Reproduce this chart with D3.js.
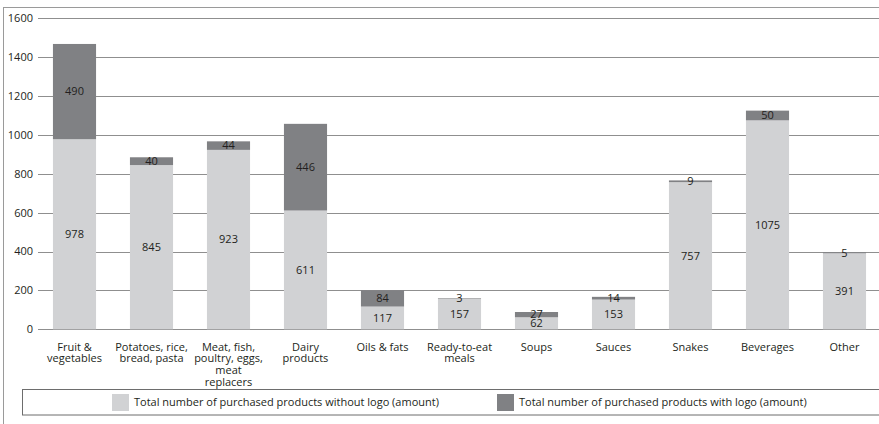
<!DOCTYPE html>
<html>
<head>
<meta charset="utf-8">
<script src="https://cdn.jsdelivr.net/npm/d3@7"></script>
<style>
  body { margin: 0; background: #fff; }
  svg { display: block; font-family: 'Open Sans', 'Noto Sans', sans-serif; }
</style>
</head>
<body>
<div id="chart"></div>
<script>
// Data
const categories = [
  'Fruit &\nvegetables',
  'Potatoes, rice,\nbread, pasta',
  'Meat, fish,\npoultry, eggs,\nmeat\nreplacers',
  'Dairy\nproducts',
  'Oils & fats',
  'Ready-to-eat\nmeals',
  'Soups',
  'Sauces',
  'Snakes',
  'Beverages',
  'Other',
];
const withoutLogo = [978, 845, 923, 611, 117, 157, 62, 153, 757, 1075, 391];
const withLogo = [490, 40, 44, 446, 84, 3, 27, 14, 9, 50, 5];
const yTicks = [0, 200, 400, 600, 800, 1000, 1200, 1400, 1600];
const seriesNames = [
  'Total number of purchased products without logo (amount)',
  'Total number of purchased products with logo (amount)',
];

const cfg = {
  w: 879,
  h: 424,
  lightColor: '#d1d2d4',
  darkColor: '#808184',
  gridColor: '#8f8f8f',
  textColor: '#231f20',
  fontSize: 11,
};

const svg = d3.select('#chart')
  .append('svg')
  .attr('width', cfg.w)
  .attr('height', cfg.h);

// Outer frame (runs off the right and bottom edges)
svg.append('rect')
  .attr('x', 3.5).attr('y', 7.5)
  .attr('width', 900).attr('height', 430)
  .attr('fill', 'none')
  .attr('stroke', '#9a9a9a')
  .attr('stroke-width', 1);

const x = d3.scaleBand()
  .domain(categories)
  .range([36, 883])
  .paddingInner(0.44)
  .paddingOuter(0.22);

const y = d3.scaleLinear()
  .domain([0, 1600])
  .range([329.3, 18.3]);

// Gridlines + tick labels
const grid = svg.append('g');
grid.selectAll('line')
  .data(yTicks)
  .enter()
  .append('line')
  .attr('x1', 38)
  .attr('x2', cfg.w)
  .attr('y1', d => Math.round(y(d)) + 0.5)
  .attr('y2', d => Math.round(y(d)) + 0.5)
  .style('stroke', cfg.gridColor)
  .style('stroke-width', '1px');

grid.selectAll('text')
  .data(yTicks)
  .enter()
  .append('text')
  .attr('x', 33)
  .attr('y', d => y(d))
  .attr('dy', '0.35em')
  .attr('text-anchor', 'end')
  .style('font-size', `${cfg.fontSize}px`)
  .attr('fill', cfg.textColor)
  .text(d => d);

// Stacked bars
const rows = categories.map((c, i) => ({
  cat: c,
  a: withoutLogo[i],
  b: withLogo[i],
}));

const bars = svg.append('g');
bars.selectAll('.lower')
  .data(rows)
  .enter()
  .append('rect')
  .attr('class', 'lower')
  .attr('x', d => x(d.cat))
  .attr('width', x.bandwidth())
  .attr('y', d => y(d.a))
  .attr('height', d => y(0) - y(d.a))
  .attr('fill', cfg.lightColor);

bars.selectAll('.upper')
  .data(rows)
  .enter()
  .append('rect')
  .attr('class', 'upper')
  .attr('x', d => x(d.cat))
  .attr('width', x.bandwidth())
  .attr('y', d => y(d.a + d.b))
  .attr('height', d => y(d.a) - y(d.a + d.b))
  .attr('fill', cfg.darkColor);

// Value labels, centred in each segment
const labels = svg.append('g')
  .attr('text-anchor', 'middle')
  .style('font-size', `${cfg.fontSize}px`)
  .attr('fill', cfg.textColor);

labels.selectAll('.la')
  .data(rows)
  .enter()
  .append('text')
  .attr('x', d => x(d.cat) + x.bandwidth() / 2)
  .attr('y', d => y(d.a / 2))
  .attr('dy', '0.35em')
  .text(d => d.a);

labels.selectAll('.lb')
  .data(rows)
  .enter()
  .append('text')
  .attr('x', d => x(d.cat) + x.bandwidth() / 2)
  .attr('y', d => y(d.a + d.b / 2))
  .attr('dy', '0.35em')
  .text(d => d.b);

// Category labels (multi-line)
const catLabels = svg.append('g')
  .attr('text-anchor', 'middle')
  .style('font-size', `${cfg.fontSize}px`)
  .attr('fill', cfg.textColor);

catLabels.selectAll('text')
  .data(categories)
  .enter()
  .append('text')
  .attr('x', d => x(d) + x.bandwidth() / 2)
  .attr('y', 350.5)
  .each(function (d) {
    const lines = d.split('\n');
    const t = d3.select(this);
    lines.forEach((ln, k) => {
      t.append('tspan')
        .attr('x', x(d) + x.bandwidth() / 2)
        .attr('dy', k === 0 ? 0 : 11.7)
        .text(ln);
    });
  });

// Legend
const legend = svg.append('g');
legend.append('rect')
  .attr('x', 22.5).attr('y', 389.5)
  .attr('width', 900).attr('height', 25.5)
  .attr('fill', 'none')
  .attr('stroke', '#6d6d6d')
  .attr('stroke-width', 1);

const legendX = [112, 497];
const legendColors = [cfg.lightColor, cfg.darkColor];
seriesNames.forEach((name, i) => {
  legend.append('rect')
    .attr('x', legendX[i]).attr('y', 394)
    .attr('width', 17).attr('height', 17)
    .attr('fill', legendColors[i]);
  legend.append('text')
    .attr('x', legendX[i] + 22)
    .attr('y', 402.5)
    .attr('dy', '0.35em')
    .style('font-size', `${cfg.fontSize}px`)
    .attr('fill', cfg.textColor)
    .text(name);
});
</script>
</body>
</html>
